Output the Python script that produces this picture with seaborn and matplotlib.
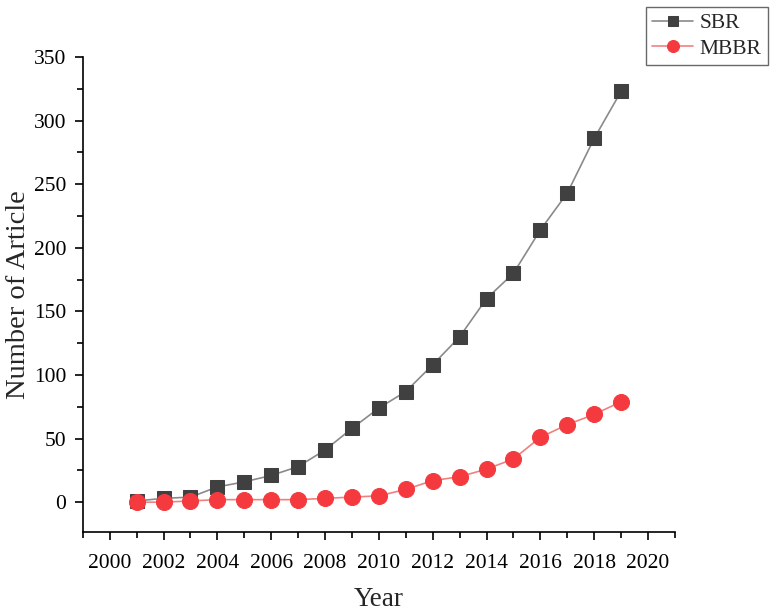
import matplotlib
matplotlib.use("Agg")
import matplotlib.pyplot as plt
from matplotlib.ticker import MultipleLocator
import seaborn as sns
import pandas as pd

years = list(range(2001, 2020))
sbr = [1, 3, 4, 12, 16, 21, 28, 41, 58, 74, 87, 108, 130, 160, 180, 214, 243, 286, 323]
mbbr = [0, 0, 1, 2, 2, 2, 2, 3, 4, 5, 10, 17, 20, 26, 34, 51, 61, 69, 79]
x_ticks = list(range(2000, 2021, 2))
y_ticks = list(range(0, 351, 50))

sns.set_theme(style="ticks")
plt.rcParams['font.family'] = ['Liberation Serif', 'DejaVu Serif']

df_sbr = pd.DataFrame({"Year": years, "Count": sbr})
df_mbbr = pd.DataFrame({"Year": years, "Count": mbbr})

fig = plt.figure(figsize=(7.74, 6.13), dpi=100)
ax = fig.add_axes([0.107, 0.132, 0.765, 0.775])

sns.lineplot(data=df_sbr, x="Year", y="Count", ax=ax, color="#8a8a8a", lw=1.2,
             marker="s", markersize=9.5, markerfacecolor="#404040",
             markeredgecolor="#404040", label="SBR")
sns.lineplot(data=df_mbbr, x="Year", y="Count", ax=ax, color="#f08080", lw=1.2,
             marker="o", markersize=11.5, markerfacecolor="#f53a3f",
             markeredgecolor="#f53a3f", label="MBBR")

ax.set_xlim(1999, 2021)
ax.set_ylim(-23.5, 350)
ax.set_xticks(x_ticks)
ax.set_yticks(y_ticks)
ax.xaxis.set_minor_locator(MultipleLocator(1))
ax.yaxis.set_minor_locator(MultipleLocator(25))

for s in ["top", "right"]:
    ax.spines[s].set_visible(False)
for s in ["left", "bottom"]:
    ax.spines[s].set_color("black")
    ax.spines[s].set_linewidth(1.2)

ax.tick_params(axis="both", which="major", direction="out", length=6, width=1.2,
               labelsize=15.5, colors="black", pad=6)
ax.tick_params(axis="both", which="minor", direction="out", length=4, width=1.2,
               colors="black")
ax.tick_params(axis="x", pad=10)

ax.set_xlabel("Year", fontsize=19.5, labelpad=10)
ax.set_ylabel("Number of Article", fontsize=20.5, labelpad=2)

ax.get_legend().remove()
handles, labels = ax.get_legend_handles_labels()
leg = fig.legend(handles, labels, loc="upper right", bbox_to_anchor=(0.992, 0.989),
                 fontsize=15.5, frameon=True, fancybox=False, handlelength=1.9,
                 markerscale=0.75, borderpad=0.3, labelspacing=0.25,
                 handletextpad=0.3, borderaxespad=0.0)
leg.get_frame().set_edgecolor("#444444")
leg.get_frame().set_linewidth(1.0)

fig.savefig("out.png", dpi=100)
